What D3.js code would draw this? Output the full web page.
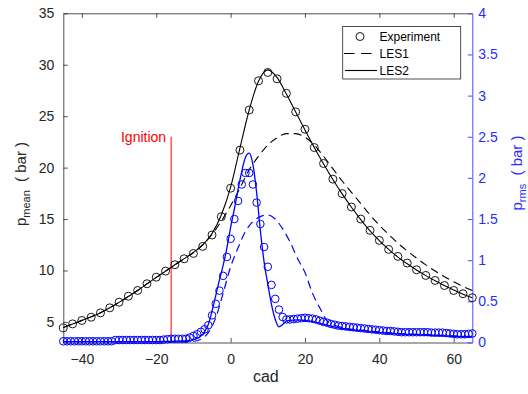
<!DOCTYPE html>
<html>
<head>
<meta charset="utf-8">
<script src="https://cdn.jsdelivr.net/npm/d3@7"></script>
<style>
  html, body { margin: 0; padding: 0; background: #fff; }
  svg { display: block; font-family: "Liberation Sans", Arial, Helvetica, sans-serif; }
</style>
</head>
<body>
<svg id="chart" width="528" height="394"></svg>
<script>
// crank angle samples (experiment mean pressure every 2.5 cad)
const cadMean = [-45, -42.5, -40, -37.5, -35, -32.5, -30, -27.5, -25, -22.5, -20, -17.5, -15, -12.5, -10, -7.5, -5, -2.5,
  0, 2.5, 5, 7.5, 10, 12.5, 15, 17.5, 20, 22.5, 25, 27.5, 30, 32.5, 35, 37.5, 40, 42.5, 45, 47.5, 50, 52.5, 55, 57.5, 60, 62.5, 65];

const expMean = [4.42, 4.81, 5.14, 5.46, 5.88, 6.37, 6.92, 7.5, 8.06, 8.71, 9.35, 9.94, 10.56, 11.14, 11.66, 12.34, 13.45, 15.23,
  18.0, 21.7, 25.6, 28.44, 29.25, 28.63, 27.22, 25.42, 23.73, 21.95, 20.4, 18.88, 17.47, 16.17, 15.0, 13.9, 12.93, 12.05, 11.37, 10.72, 10.07, 9.52, 9.03, 8.54, 8.06, 7.74, 7.35];

const les1Mean = [4.45, 4.8, 5.15, 5.5, 5.9, 6.38, 6.9, 7.48, 8.06, 8.7, 9.33, 9.94, 10.55, 11.15, 11.75, 12.5, 13.5, 14.8,
  16.3, 18.0, 19.8, 21.1, 22.2, 22.9, 23.3, 23.3, 22.95, 22.2, 21.1, 19.9, 18.7, 17.6, 16.5, 15.4, 14.4, 13.5, 12.65, 11.9, 11.2, 10.55, 9.95, 9.4, 8.9, 8.45, 8.05];

const les2Mean = [4.45, 4.8, 5.15, 5.5, 5.9, 6.38, 6.9, 7.48, 8.06, 8.7, 9.33, 9.94, 10.55, 11.15, 11.75, 12.5, 13.6, 15.4,
  18.1, 21.9, 25.6, 28.4, 29.5, 28.75, 27.15, 25.4, 23.65, 21.95, 20.35, 18.85, 17.45, 16.15, 14.95, 13.85, 12.9, 12.05, 11.3, 10.65, 10.05, 9.5, 9.0, 8.55, 8.1, 7.7, 7.35];

// experiment rms pressure, every 1 cad
const cadRms = [-45, -44, -43, -42, -41, -40, -39, -38, -37, -36, -35, -34, -33, -32, -31, -30, -29, -28, -27, -26,
  -25, -24, -23, -22, -21, -20, -19, -18, -17, -16, -15, -14, -13, -12, -11, -10, -9, -8, -7, -6,
  -5, -4, -3, -2, -1, 0, 1, 2, 3, 4, 5, 6, 7, 8, 9, 10, 11, 12, 13, 14,
  15, 16, 17, 18, 19, 20, 21, 22, 23, 24, 25, 26, 27, 28, 29, 30, 31, 32, 33, 34,
  35, 36, 37, 38, 39, 40, 41, 42, 43, 44, 45, 46, 47, 48, 49, 50, 51, 52, 53, 54,
  55, 56, 57, 58, 59, 60, 61, 62, 63, 64, 65];

const expRms = [0.015, 0.015, 0.015, 0.015, 0.015, 0.015, 0.015, 0.015, 0.015, 0.015, 0.015, 0.015, 0.015, 0.015, 0.03, 0.03, 0.03, 0.03, 0.03, 0.03,
  0.03, 0.03, 0.03, 0.03, 0.03, 0.03, 0.03, 0.035, 0.04, 0.045, 0.045, 0.045, 0.045, 0.045, 0.06, 0.08, 0.1, 0.13, 0.16, 0.21,
  0.33, 0.47, 0.63, 0.81, 1.04, 1.26, 1.5, 1.72, 1.92, 2.06, 2.06, 1.92, 1.7, 1.44, 1.16, 0.92, 0.7, 0.53, 0.4, 0.31,
  0.28, 0.28, 0.285, 0.29, 0.295, 0.3, 0.295, 0.29, 0.28, 0.265, 0.25, 0.24, 0.225, 0.215, 0.205, 0.2, 0.195, 0.19, 0.185, 0.18,
  0.175, 0.17, 0.165, 0.16, 0.155, 0.15, 0.145, 0.14, 0.14, 0.135, 0.13, 0.125, 0.125, 0.125, 0.125, 0.125, 0.125, 0.125, 0.125, 0.12,
  0.12, 0.12, 0.12, 0.115, 0.11, 0.105, 0.1, 0.1, 0.1, 0.105, 0.11];

// LES rms curves (cad, value)
const les1RmsCad = [-45, -20, -10, -8, -6, -4, -2, 0, 2, 4, 6, 8, 10, 12, 14, 16, 18, 20, 22, 24, 26, 28, 30, 35, 40, 45, 50, 55, 60, 65];
const les1Rms = [0.01, 0.01, 0.015, 0.04, 0.12, 0.3, 0.6, 0.92, 1.15, 1.35, 1.47, 1.53, 1.55, 1.5, 1.38, 1.22, 1.02, 0.85, 0.6, 0.42, 0.26, 0.21, 0.18, 0.15, 0.13, 0.11, 0.1, 0.09, 0.08, 0.07];

const les2RmsCad = [-45, -20, -12, -10, -9, -8, -7, -6, -5, -4, -3, -2, -1, 0, 1, 2, 3, 4, 5, 6, 7, 8, 9, 10, 11, 12, 13, 14, 15, 16,
  18, 20, 22, 25, 30, 35, 40, 45, 50, 55, 60, 65];
const les2Rms = [0.01, 0.01, 0.02, 0.035, 0.05, 0.08, 0.13, 0.22, 0.38, 0.57, 0.76, 0.94, 1.15, 1.4, 1.62, 1.86, 2.08, 2.25, 2.3, 2.16, 1.82, 1.36, 0.98, 0.71, 0.46, 0.28, 0.19, 0.22, 0.26, 0.27,
  0.275, 0.27, 0.255, 0.22, 0.17, 0.14, 0.12, 0.105, 0.095, 0.085, 0.075, 0.065];

const xTicks = [-40, -20, 0, 20, 40, 60];
const yLeftTicks = [5, 10, 15, 20, 25, 30, 35];
const yRightTicks = [0, 0.5, 1, 1.5, 2, 2.5, 3, 3.5, 4];
const ignitionCad = -16;
const ignitionTop = 23;

const svg = d3.select("#chart");
const plotL = 63.3, plotR = 472.3, plotT = 13.3, plotB = 342.5;
const axisColor = "#262626";
const blue = "#0000ff";
const blueText = "#2b2bff";

const x = d3.scaleLinear().domain([-45, 65]).range([plotL, plotR]);
const yL = d3.scaleLinear().domain([3, 35]).range([plotB, plotT]);
const yR = d3.scaleLinear().domain([0, 4]).range([plotB, plotT]);

// axes
const xAxis = svg.append("g")
  .attr("transform", `translate(0,${plotB})`)
  .call(d3.axisBottom(x).tickValues(xTicks).tickSizeInner(-4.5).tickSizeOuter(0).tickPadding(12));
const xTop = svg.append("g")
  .attr("transform", `translate(0,${plotT})`)
  .call(d3.axisTop(x).tickValues(xTicks).tickSizeInner(-4.5).tickSizeOuter(0).tickFormat(""));
const yAxisL = svg.append("g")
  .attr("transform", `translate(${plotL},0)`)
  .call(d3.axisLeft(yL).tickValues(yLeftTicks).tickSizeInner(-4.5).tickSizeOuter(0).tickPadding(9));
const yAxisR = svg.append("g")
  .attr("transform", `translate(${plotR},0)`)
  .call(d3.axisRight(yR).tickValues(yRightTicks).tickSizeInner(-4.5).tickSizeOuter(0).tickPadding(6)
    .tickFormat(d3.format("")));

[xAxis, xTop, yAxisL].forEach((g) => {
  g.selectAll("path, line").attr("stroke", axisColor).attr("stroke-width", 0.8);
  g.selectAll("text").attr("fill", axisColor).attr("font-size", 14).attr("font-family", null);
});
yAxisR.selectAll("path, line").attr("stroke", "#4d4dff").attr("stroke-width", 1);
yAxisR.selectAll("text").attr("fill", blueText).attr("font-size", 14).attr("font-family", null);

// axis labels
svg.append("text")
  .attr("x", (plotL + plotR) / 2 - 2).attr("y", 382)
  .attr("text-anchor", "middle").attr("font-size", 16).attr("fill", axisColor)
  .text("cad");

const lblL = svg.append("text")
  .attr("transform", "translate(25.5,184) rotate(-90)")
  .attr("text-anchor", "middle").attr("font-size", 15).attr("fill", axisColor);
lblL.append("tspan").text("p");
lblL.append("tspan").attr("font-size", 11).attr("dy", 4).text("mean");
lblL.append("tspan").attr("dy", -4).text("\u00a0\u00a0( bar )");

const lblR = svg.append("text")
  .attr("transform", "translate(522,173) rotate(-90)")
  .attr("text-anchor", "middle").attr("font-size", 15).attr("fill", blueText);
lblR.append("tspan").text("p");
lblR.append("tspan").attr("font-size", 11).attr("dy", 4).text("rms");
lblR.append("tspan").attr("dy", -4).text("\u00a0\u00a0( bar )");

// ignition marker
svg.append("line")
  .attr("x1", x(ignitionCad)).attr("x2", x(ignitionCad))
  .attr("y1", yL(3)).attr("y2", yL(ignitionTop))
  .attr("stroke", "#ff0000").attr("stroke-width", 1);
svg.append("text")
  .attr("x", x(ignitionCad) - 5).attr("y", 142)
  .attr("text-anchor", "end").attr("font-size", 14).attr("fill", "#ff0000")
  .text("Ignition");

const line = (xs, ys, yScale) => d3.line()
  .x((d, i) => x(xs[i]))
  .y((d) => yScale(d))
  .curve(d3.curveMonotoneX)(ys);

// mean pressure
svg.append("path").attr("d", line(cadMean, les1Mean, yL))
  .attr("fill", "none").attr("stroke", "#000").attr("stroke-width", 1.1).attr("stroke-dasharray", "8,5");
svg.append("path").attr("d", line(cadMean, les2Mean, yL))
  .attr("fill", "none").attr("stroke", "#000").attr("stroke-width", 1.1);
svg.append("g").selectAll("circle").data(expMean).join("circle")
  .attr("cx", (d, i) => x(cadMean[i])).attr("cy", (d) => yL(d)).attr("r", 4)
  .attr("fill", "none").attr("stroke", "#000").attr("stroke-width", 0.9);

// rms pressure
svg.append("path").attr("d", line(les1RmsCad, les1Rms, yR))
  .attr("fill", "none").attr("stroke", blue).attr("stroke-width", 1.2).attr("stroke-dasharray", "8,5");
svg.append("path").attr("d", line(les2RmsCad, les2Rms, yR))
  .attr("fill", "none").attr("stroke", blue).attr("stroke-width", 1.3);
svg.append("g").selectAll("circle").data(expRms).join("circle")
  .attr("cx", (d, i) => x(cadRms[i])).attr("cy", (d) => yR(d)).attr("r", 3.8)
  .attr("fill", "none").attr("stroke", blue).attr("stroke-width", 1);

// legend
const lg = svg.append("g");
lg.append("rect").attr("x", 342.7).attr("y", 26.5).attr("width", 118).attr("height", 52.5)
  .attr("fill", "#fff").attr("stroke", axisColor).attr("stroke-width", 0.8);
const rows = [
  { label: "Experiment", y: 36.5 },
  { label: "LES1", y: 53.5 },
  { label: "LES2", y: 70.5 },
];
lg.append("circle").attr("cx", 360).attr("cy", rows[0].y).attr("r", 4)
  .attr("fill", "none").attr("stroke", "#000").attr("stroke-width", 0.9);
lg.append("line").attr("x1", 344).attr("x2", 372).attr("y1", rows[1].y).attr("y2", rows[1].y)
  .attr("stroke", "#000").attr("stroke-width", 1.1).attr("stroke-dasharray", "10.5,6.5");
lg.append("line").attr("x1", 345).attr("x2", 377).attr("y1", rows[2].y).attr("y2", rows[2].y)
  .attr("stroke", "#000").attr("stroke-width", 1.1);
lg.selectAll("text.lab").data(rows).join("text")
  .attr("class", "lab")
  .attr("x", 379.5).attr("y", (d) => d.y + 4.3)
  .attr("font-size", 12).attr("fill", "#000")
  .text((d) => d.label);
</script>
</body>
</html>
